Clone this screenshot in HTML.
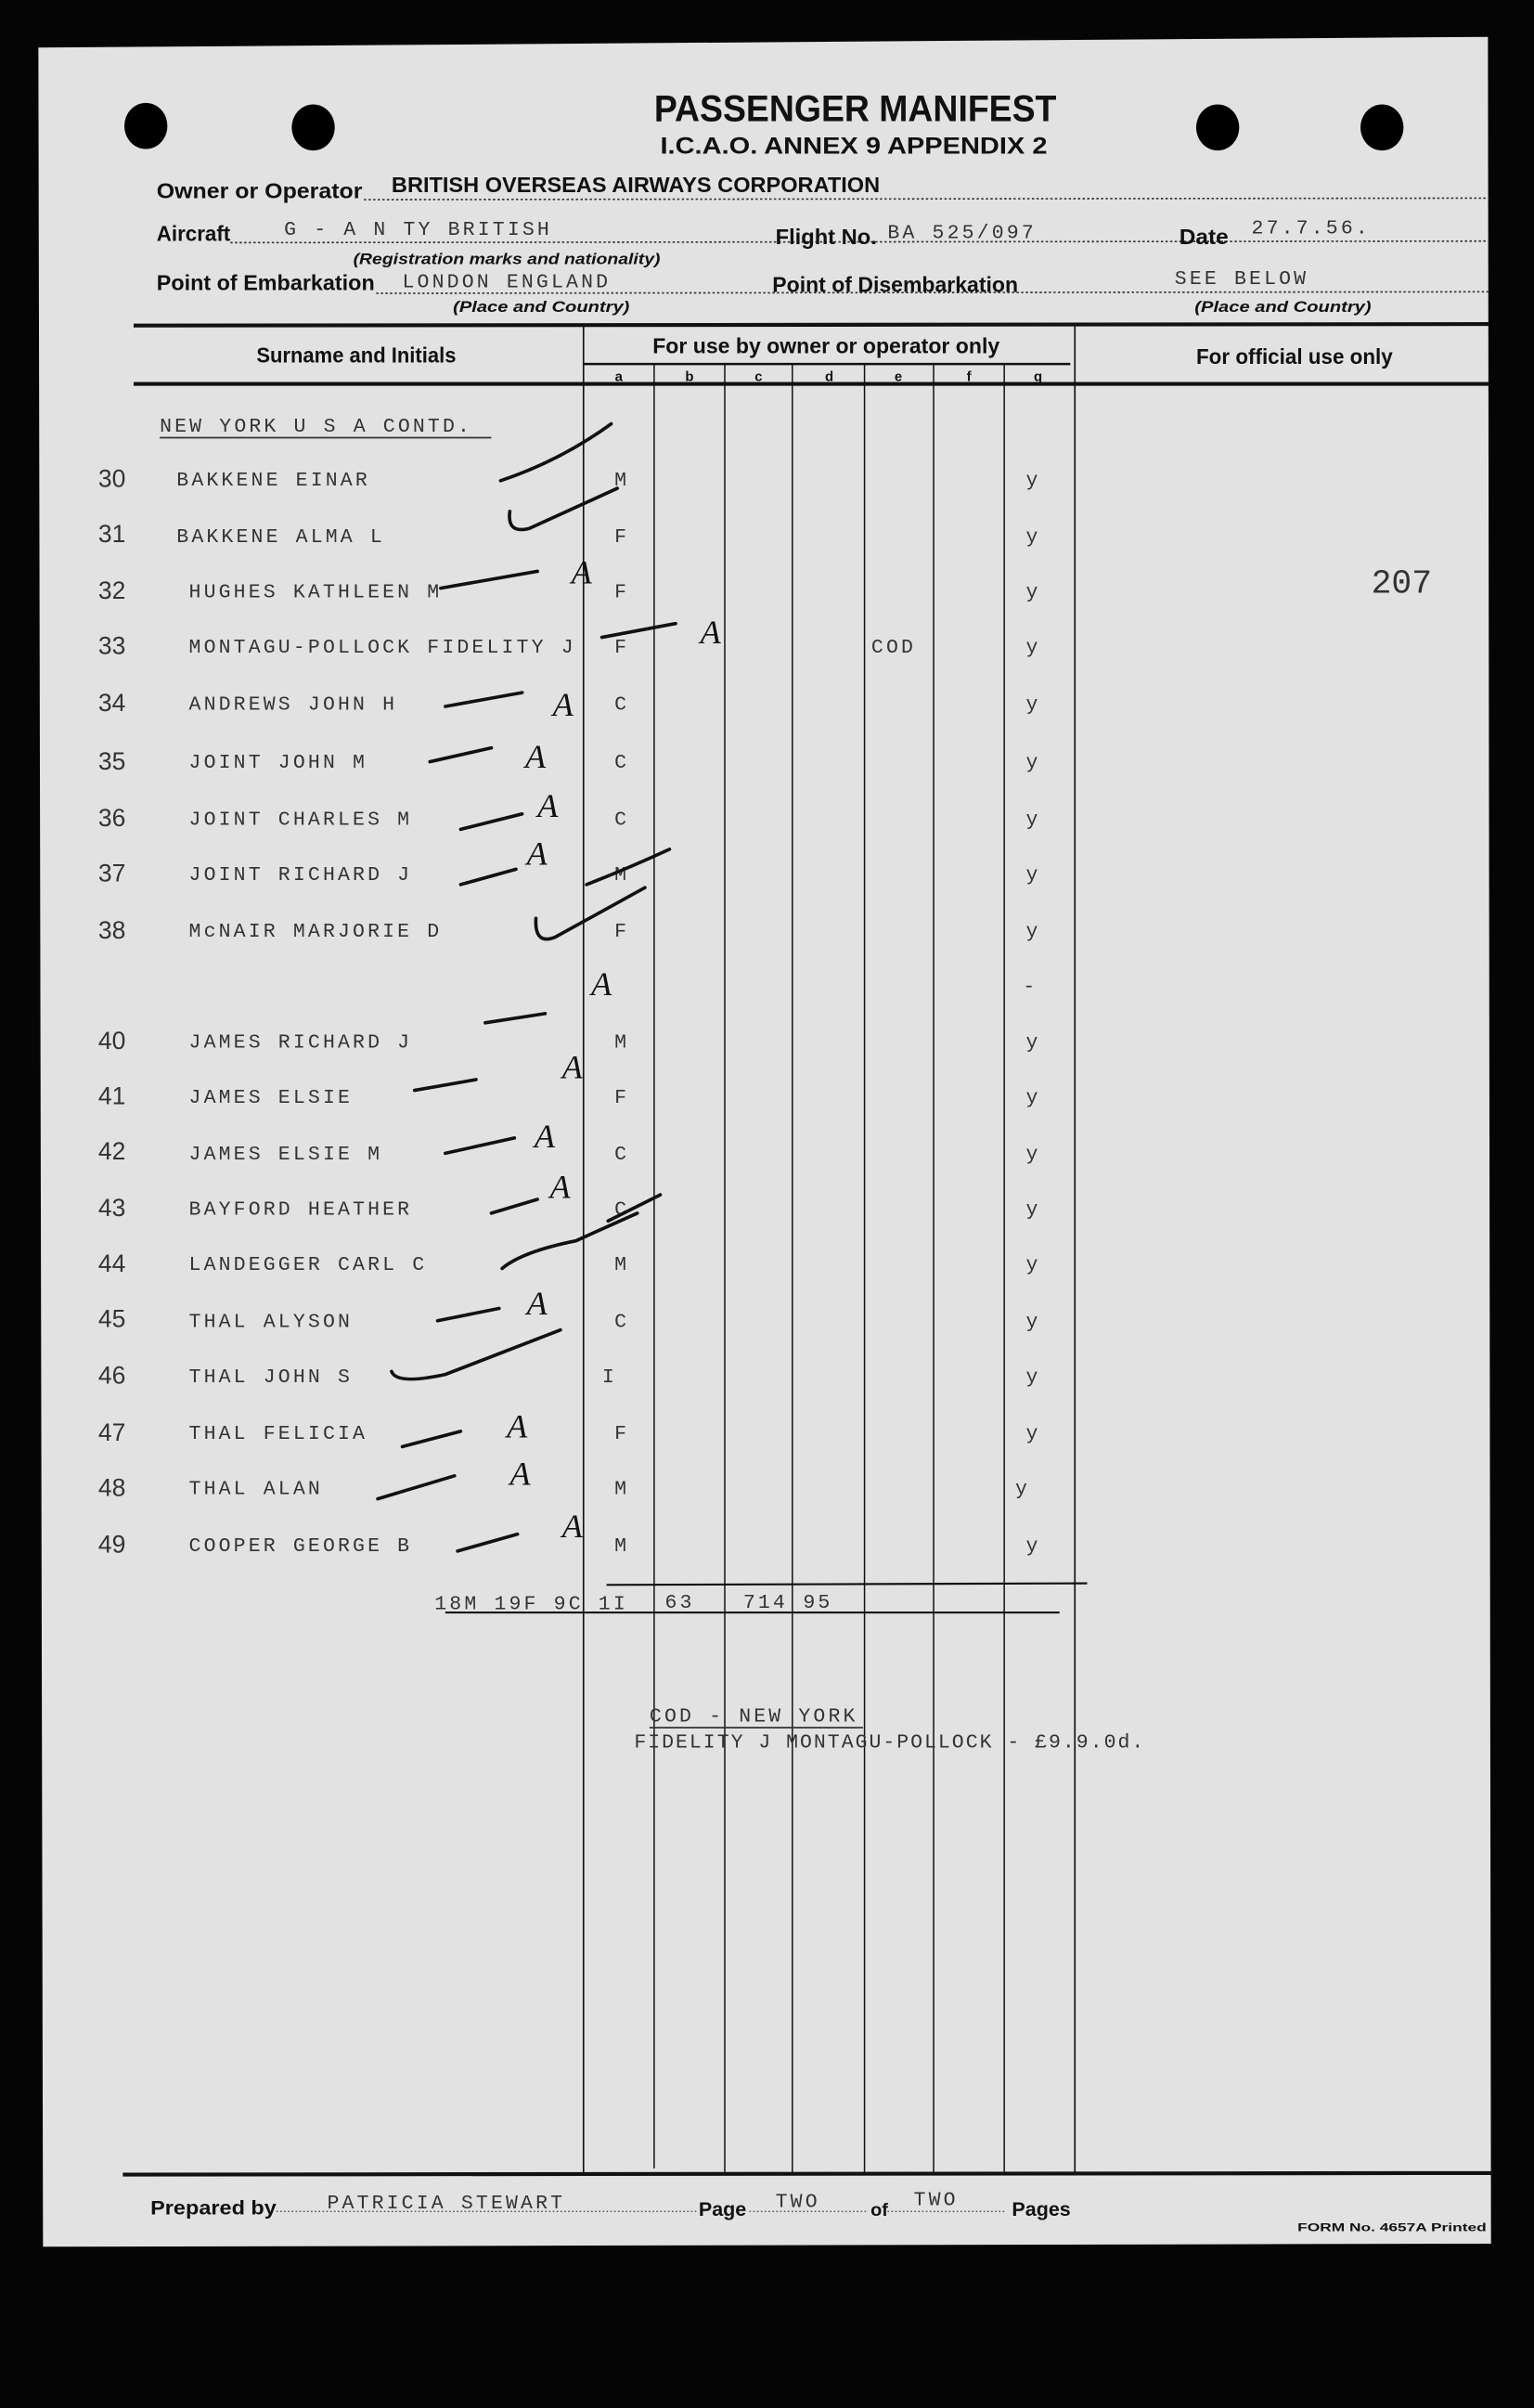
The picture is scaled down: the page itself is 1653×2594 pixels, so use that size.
<!DOCTYPE html>
<html><head><meta charset="utf-8"><style>
html,body{margin:0;padding:0;background:#000;}
svg{display:block;}
.f{font-family:"Liberation Sans",sans-serif;font-weight:bold;fill:#111;}
.m{font-family:"Liberation Mono",monospace;fill:#333;font-size:13px;letter-spacing:1.9px;}
.h{font-family:"Liberation Serif",serif;font-style:italic;fill:#111;font-size:22px;}
</style></head><body>
<svg width="1653" height="2594" viewBox="0 0 999 1568" preserveAspectRatio="none" xmlns="http://www.w3.org/2000/svg">
<rect width="999" height="1568" fill="#050505"/>
<polygon points="25,31 969,24 971,1461 28,1463" fill="#e2e2e2"/>
<g fill="#000">
<ellipse cx="95" cy="82" rx="14" ry="15"/><ellipse cx="204" cy="83" rx="14" ry="15"/>
<ellipse cx="793" cy="83" rx="14" ry="15"/><ellipse cx="900" cy="83" rx="14" ry="15"/>
</g>
<text class="f" x="557" y="79" font-size="24" text-anchor="middle" textLength="262" lengthAdjust="spacingAndGlyphs" font-weight="normal">PASSENGER MANIFEST</text>
<text class="f" x="556" y="100" font-size="15" text-anchor="middle" textLength="252" lengthAdjust="spacingAndGlyphs" font-weight="normal">I.C.A.O. ANNEX 9 APPENDIX 2</text>
<text class="f" x="102" y="129" font-size="14" textLength="134" lengthAdjust="spacingAndGlyphs">Owner or Operator</text>
<text class="f" x="255" y="125" font-size="14" textLength="318" lengthAdjust="spacingAndGlyphs">BRITISH OVERSEAS AIRWAYS CORPORATION</text>
<g stroke="#333" stroke-width="1" stroke-dasharray="1.5,1.5">
<line x1="237" y1="130" x2="970" y2="129"/>
<line x1="150" y1="158" x2="970" y2="157"/>
<line x1="245" y1="191" x2="970" y2="190"/>
</g>
<text class="f" x="102" y="157" font-size="14" textLength="48" lengthAdjust="spacingAndGlyphs">Aircraft</text>
<text class="m" x="185" y="153">G - A N TY  BRITISH</text>
<text class="f" x="505" y="159" font-size="14" textLength="66" lengthAdjust="spacingAndGlyphs">Flight No.</text>
<text class="m" x="578" y="155" font-size="15">BA 525/097</text>
<text class="f" x="768" y="159" font-size="14" textLength="32" lengthAdjust="spacingAndGlyphs">Date</text>
<text class="m" x="815" y="152" font-size="15" fill="#222">27.7.56.</text>
<text class="f" x="230" y="172" font-size="10" font-style="italic" textLength="200" lengthAdjust="spacingAndGlyphs">(Registration marks and nationality)</text>
<text class="f" x="102" y="189" font-size="14" textLength="142" lengthAdjust="spacingAndGlyphs">Point of Embarkation</text>
<text class="m" x="262" y="187">LONDON ENGLAND</text>
<text class="f" x="503" y="190" font-size="14" textLength="160" lengthAdjust="spacingAndGlyphs">Point of Disembarkation</text>
<text class="m" x="765" y="185">SEE BELOW</text>
<text class="f" x="295" y="203" font-size="10" font-style="italic" textLength="115" lengthAdjust="spacingAndGlyphs">(Place and Country)</text>
<text class="f" x="778" y="203" font-size="10" font-style="italic" textLength="115" lengthAdjust="spacingAndGlyphs">(Place and Country)</text>
<g stroke="#111">
<line x1="87" y1="212" x2="970" y2="211" stroke-width="2.5"/>
<line x1="87" y1="250" x2="970" y2="250" stroke-width="2.5"/>
<line x1="80" y1="1416" x2="972" y2="1415" stroke-width="2.5"/>
<line x1="380" y1="237" x2="697" y2="237" stroke-width="1.5"/>
<line x1="380" y1="212" x2="380" y2="1415" stroke-width="1"/>
<line x1="700" y1="212" x2="700" y2="1415" stroke-width="1"/>
<g stroke-width="0.9">
<line x1="426" y1="237" x2="426" y2="1412"/><line x1="472" y1="237" x2="472" y2="1415"/>
<line x1="516" y1="237" x2="516" y2="1415"/><line x1="563" y1="237" x2="563" y2="1415"/>
<line x1="608" y1="237" x2="608" y2="1415"/><line x1="654" y1="237" x2="654" y2="1415"/>
</g>
<line x1="395" y1="1032" x2="708" y2="1031" stroke-width="1.3"/>
<line x1="290" y1="1050" x2="690" y2="1050" stroke-width="1.3"/>
</g>
<text class="f" x="232" y="236" font-size="14" text-anchor="middle" font-weight="normal" textLength="130" lengthAdjust="spacingAndGlyphs">Surname and Initials</text>
<text class="f" x="538" y="230" font-size="14" text-anchor="middle" font-weight="normal" textLength="226" lengthAdjust="spacingAndGlyphs">For use by owner or operator only</text>
<text class="f" x="843" y="237" font-size="14" text-anchor="middle" font-weight="normal" textLength="128" lengthAdjust="spacingAndGlyphs">For official use only</text>
<g class="f" font-size="9" font-weight="normal" text-anchor="middle">
<text x="403" y="248">a</text><text x="449" y="248">b</text><text x="494" y="248">c</text><text x="540" y="248">d</text><text x="585" y="248">e</text><text x="631" y="248">f</text><text x="676" y="248">g</text>
</g>
<text class="m" x="104" y="281">NEW YORK U S A  CONTD.</text>
<line x1="104" y1="285" x2="320" y2="285" stroke="#333" stroke-width="1"/>
<g class="m">
<text x="115" y="316">BAKKENE EINAR</text>
<text x="115" y="353">BAKKENE ALMA L</text>
<text x="123" y="389">HUGHES KATHLEEN M</text>
<text x="123" y="425">MONTAGU-POLLOCK FIDELITY J</text>
<text x="123" y="462">ANDREWS JOHN H</text>
<text x="123" y="500">JOINT JOHN M</text>
<text x="123" y="537">JOINT CHARLES  M</text>
<text x="123" y="573">JOINT RICHARD J</text>
<text x="123" y="610">McNAIR MARJORIE D</text>
<text x="123" y="682">JAMES RICHARD J</text>
<text x="123" y="718">JAMES ELSIE</text>
<text x="123" y="755">JAMES ELSIE M</text>
<text x="123" y="791">BAYFORD HEATHER</text>
<text x="123" y="827">LANDEGGER CARL C</text>
<text x="123" y="864">THAL ALYSON</text>
<text x="123" y="900">THAL JOHN S</text>
<text x="123" y="937">THAL FELICIA</text>
<text x="123" y="973">THAL ALAN</text>
<text x="123" y="1010">COOPER GEORGE B</text>
</g>
<g class="m" text-anchor="middle" letter-spacing="0">
<text x="405" y="316">M</text><text x="405" y="353">F</text><text x="405" y="389">F</text><text x="405" y="425">F</text>
<text x="405" y="462">C</text><text x="405" y="500">C</text><text x="405" y="537">C</text><text x="405" y="573">M</text>
<text x="405" y="610">F</text><text x="405" y="682">M</text><text x="405" y="718">F</text><text x="405" y="755">C</text>
<text x="405" y="791">C</text><text x="405" y="827">M</text><text x="405" y="864">C</text><text x="397" y="900">I</text>
<text x="405" y="937">F</text><text x="405" y="973">M</text><text x="405" y="1010">M</text>
<text x="582" y="425">COD</text>
</g>
<g class="m" text-anchor="middle" letter-spacing="0">
<text x="673" y="316">y</text><text x="673" y="353">y</text><text x="673" y="389">y</text><text x="673" y="425">y</text>
<text x="673" y="462">y</text><text x="673" y="500">y</text><text x="673" y="537">y</text><text x="673" y="573">y</text>
<text x="673" y="610">y</text><text x="671" y="646">-</text><text x="673" y="682">y</text><text x="673" y="718">y</text>
<text x="673" y="755">y</text><text x="673" y="791">y</text><text x="673" y="827">y</text><text x="673" y="864">y</text>
<text x="673" y="900">y</text><text x="673" y="937">y</text><text x="666" y="973">y</text><text x="673" y="1010">y</text>
</g>
<g font-family="Liberation Sans,sans-serif" font-size="16" fill="#333">
<text x="64" y="317">30</text><text x="64" y="353">31</text><text x="64" y="390">32</text><text x="64" y="426">33</text>
<text x="64" y="463">34</text><text x="64" y="501">35</text><text x="64" y="538">36</text><text x="64" y="574">37</text>
<text x="64" y="611">38</text><text x="64" y="683">40</text><text x="64" y="719">41</text><text x="64" y="755">42</text>
<text x="64" y="792">43</text><text x="64" y="828">44</text><text x="64" y="864">45</text><text x="64" y="901">46</text>
<text x="64" y="938">47</text><text x="64" y="974">48</text><text x="64" y="1011">49</text>
</g>
<text font-family="Liberation Mono,monospace" font-size="22" fill="#333" x="893" y="386">207</text>
<g class="m" letter-spacing="0.5">
<text x="283" y="1048">18M 19F 9C 1I</text>
<text x="433" y="1047">63</text><text x="484" y="1047">714</text><text x="523" y="1047">95</text>
<text x="423" y="1121">COD - NEW YORK</text>
<text x="413" y="1138" letter-spacing="1.2">FIDELITY J MONTAGU-POLLOCK - £9.9.0d.</text>
</g>
<line x1="423" y1="1125" x2="562" y2="1125" stroke="#333"/>
<g fill="none" stroke="#111" stroke-width="2.2" stroke-linecap="round">
<path d="M326,313 Q365,300 398,276"/>
<path d="M332,333 Q330,348 345,344 L402,318"/>
<path d="M287,383 L350,372"/><path d="M392,415 L440,406"/>
<path d="M290,460 L340,451"/><path d="M280,496 L320,487"/>
<path d="M300,540 L340,530"/><path d="M300,576 L336,566"/>
<path d="M382,576 Q410,565 436,553"/>
<path d="M349,598 Q348,616 362,610 L420,578"/>
<path d="M316,666 L355,660"/><path d="M270,710 L310,703"/>
<path d="M290,751 L335,741"/><path d="M320,790 L350,781"/>
<path d="M396,795 L430,778"/>
<path d="M327,826 Q340,815 375,808 L415,790"/>
<path d="M285,860 L325,852"/><path d="M255,893 Q258,902 290,895 L365,866"/>
<path d="M262,942 L300,932"/><path d="M246,976 L296,961"/><path d="M298,1010 L337,999"/>
</g>
<g class="h">
<text x="372" y="380">A</text><text x="456" y="419">A</text><text x="360" y="466">A</text>
<text x="342" y="500">A</text><text x="350" y="532">A</text><text x="343" y="563">A</text>
<text x="385" y="648">A</text><text x="366" y="702">A</text><text x="348" y="747">A</text>
<text x="358" y="780">A</text><text x="343" y="856">A</text><text x="330" y="936">A</text>
<text x="332" y="967">A</text><text x="366" y="1001">A</text>
</g>
<g stroke="#444" stroke-width="0.8" stroke-dasharray="1,1.5">
<line x1="180" y1="1440" x2="455" y2="1440"/><line x1="488" y1="1440" x2="565" y2="1440"/><line x1="578" y1="1440" x2="655" y2="1440"/>
</g>
<text class="f" x="98" y="1442" font-size="13" font-weight="normal" fill="#555" textLength="82" lengthAdjust="spacingAndGlyphs">Prepared by</text>
<text class="m" x="213" y="1438" fill="#555">PATRICIA STEWART</text>
<text class="f" x="455" y="1443" font-size="13" font-weight="normal" fill="#333">Page</text>
<text class="m" x="505" y="1437" fill="#555">TWO</text>
<text class="f" x="567" y="1443" font-size="12" font-weight="normal" fill="#333">of</text>
<text class="m" x="595" y="1436" fill="#555">TWO</text>
<text class="f" x="659" y="1443" font-size="13" font-weight="normal" fill="#333">Pages</text>
<text class="f" x="845" y="1453" font-size="7" textLength="123" lengthAdjust="spacingAndGlyphs">FORM No. 4657A  Printed</text>
</svg>
</body></html>
